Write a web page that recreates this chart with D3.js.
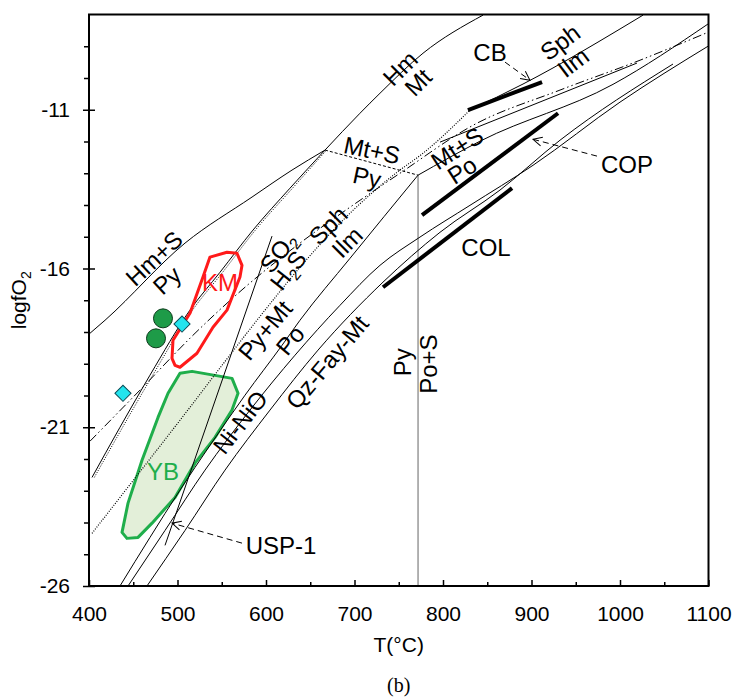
<!DOCTYPE html>
<html>
<head>
<meta charset="utf-8">
<script src="https://cdn.jsdelivr.net/npm/d3@7/dist/d3.min.js"></script>
<style>
  body { margin: 0; background: #fff; }
  text { font-family: "Liberation Sans", Arial, sans-serif; }
</style>
</head>
<body>
<svg id="chart" width="735" height="697"></svg>
<script>
// axis ticks
const xMajor = [400, 500, 600, 700, 800, 900, 1000, 1100];
const xMinor = [450, 550, 650, 750, 850, 950, 1050];
const yMajor = [-26, -21, -16, -11];
const yMinor = [-25, -24, -23, -22, -20, -19, -18, -17, -15, -14, -13, -12, -10, -9];

// buffer curves, [T (°C), logfO2]
const hmPyLine = [[401.1, -18.04], [418.1, -17.63], [508.5, -15.20], [584.2, -13.75], [629.4, -12.90], [666.7, -12.27]];
const hmMtLine = [[666.7, -12.27], [706.2, -11.11], [728.8, -10.48], [777.4, -9.22], [845.2, -8.02]];
const pyMtLine = [[403.4, -22.58], [435.0, -21.00], [468.9, -19.36], [514.1, -17.31], [548.0, -16.12], [585.3, -14.79], [627.1, -13.47], [666.7, -12.27]];
const pyMtDotted = [[406.0, -22.58], [438.0, -21.00], [472.0, -19.36], [517.0, -17.31], [551.0, -16.12], [588.0, -14.79], [630.0, -13.47], [667.5, -12.30]];
const mtsPyLine = [[666.7, -12.27], [771.8, -13.06]];
const pyPoSLine = [[771.8, -13.06], [771.8, -26.0]];
const pyPoLine = [[435.0, -26.0], [468.9, -24.47], [502.8, -22.98], [536.7, -21.57], [576.3, -19.99], [618.1, -18.42], [638.4, -17.63], [694.9, -15.68], [771.8, -13.06]];
const mtsPoLine = [[771.8, -13.06], [841.8, -11.99], [992.1, -10.20], [1099.4, -8.30]];
const nnoLine = [[444.1, -26.0], [485.9, -24.25], [531.1, -22.35], [581.9, -20.46], [632.8, -18.73], [683.6, -17.16], [728.8, -15.90], [774.0, -15.01], [830.5, -14.01], [901.7, -12.75], [1000.0, -10.76], [1099.4, -9.00]];
const qfmLine = [[465.5, -26.0], [508.5, -24.25], [553.7, -22.35], [604.5, -20.46], [658.8, -18.57], [732.2, -16.43], [796.6, -14.86], [864.4, -13.53], [932.2, -11.96], [1059.9, -9.56]];
const so2Line = [[401.1, -21.44], [457.6, -19.83], [519.8, -18.04], [576.3, -16.59], [638.4, -15.20], [694.9, -14.07], [751.4, -13.00], [833.9, -11.49], [932.2, -10.38], [1022.6, -9.44], [1099.4, -8.56]];
const steepLine = [[485.9, -24.72], [606.8, -14.98]];
const sphIlmDotted = [[403.4, -24.34], [502.8, -20.78], [598.9, -17.31], [638.4, -15.96], [694.9, -14.26], [748.0, -12.97], [777.4, -12.37], [830.5, -11.01]];
const sphIlmUpper = [[830.5, -11.01], [890.4, -10.19], [1026.0, -8.02]];
const ilmLower = [[796.6, -12.02], [1019.2, -9.53]];

// sample estimates (thick bars)
const cbBar = [[828.2, -11.01], [911.9, -10.13]];
const copBar = [[776.3, -14.32], [930.0, -11.11]];
const colBar = [[732.2, -16.59], [878.0, -13.47]];

// fields
const kmField = [[536.7, -15.64], [555.9, -15.49], [567.2, -15.52], [572.9, -15.90], [570.6, -16.27], [555.9, -17.31], [540.1, -17.85], [522.0, -18.67], [502.8, -19.11], [497.2, -19.05], [493.8, -18.83], [494.9, -18.26], [514.1, -17.41], [528.8, -16.27]];
const ybField = [[502.8, -19.30], [516.4, -19.24], [561.6, -19.46], [568.4, -19.93], [561.6, -20.46], [542.4, -21.32], [519.8, -22.13], [497.2, -23.21], [471.2, -24.02], [455.4, -24.47], [442.9, -24.50], [437.3, -24.31], [444.1, -23.39], [459.9, -22.04], [478.0, -20.69], [489.3, -19.93]];

// points
const circlePts = [[483.6, -17.57], [475.7, -18.20]];
const diamondPts = [[505.1, -17.75], [438.4, -19.93]];

// pointer arrows [from, to]
const cbArrow = [[870.1, -9.50], [898.3, -10.07]];
const copArrow = [[974.0, -12.46], [901.7, -11.93]];
const uspArrow = [[572.9, -24.65], [493.8, -24.02]];

// labels
const labels = [
  {text: "Hm+S", t: 473.4, f: -15.68, rot: -43},
  {text: "Py", t: 488.1, f: -16.37, rot: -43},
  {text: "Hm", t: 751.4, f: -9.69, rot: -45},
  {text: "Mt", t: 771.8, f: -10.13, rot: -45},
  {text: "Mt+S", t: 719.8, f: -12.27, rot: 12},
  {text: "Py", t: 714.1, f: -13.12, rot: 12},
  {text: "Mt+S", t: 815.8, f: -12.21, rot: -33},
  {text: "Po", t: 821.5, f: -12.90, rot: -33},
  {text: "Sph", t: 670.1, f: -14.64, rot: -45},
  {text: "Ilm", t: 691.5, f: -15.17, rot: -45},
  {text: "SO_2", t: 613.6, f: -15.49, rot: -52},
  {text: "H_2S", t: 624.9, f: -16.05, rot: -52},
  {text: "Py+Mt", t: 598.9, f: -17.94, rot: -50},
  {text: "Po", t: 627.1, f: -18.26, rot: -50},
  {text: "Ni-NiO", t: 570.6, f: -20.84, rot: -52},
  {text: "Qz-Fay-Mt", t: 668.9, f: -18.95, rot: -50},
  {text: "Py", t: 753.7, f: -18.95, rot: -90},
  {text: "Po+S", t: 783.1, f: -19.01, rot: -90},
  {text: "Sph", t: 932.2, f: -8.87, rot: -37},
  {text: "Ilm", t: 946.9, f: -9.50, rot: -37},
  {text: "CB", t: 853.1, f: -9.19, rot: 0},
  {text: "COP", t: 1007.9, f: -12.71, rot: 0},
  {text: "COL", t: 848.6, f: -15.33, rot: 0},
  {text: "USP-1", t: 617.0, f: -24.72, rot: 0},
  {text: "KM", t: 548.0, f: -16.43, rot: 0, color: "#ff1a1a"},
  {text: "YB", t: 483.6, f: -22.39, rot: 0, color: "#1fae4b"}
];

const width = 735, height = 697;
const margins = {top: 14.5, bottom: 111, left: 89, right: 26.5};

const svg = d3.select("#chart");
const x = d3.scaleLinear().domain([400, 1100]).range([margins.left, width - margins.right]);
const y = d3.scaleLinear().domain([-26, -8]).range([height - margins.bottom, margins.top]);

const line = d3.line().x(d => x(d[0])).y(d => y(d[1]));
const closed = d3.line().x(d => x(d[0])).y(d => y(d[1])).curve(d3.curveLinearClosed);
const smooth = d3.line().x(d => x(d[0])).y(d => y(d[1])).curve(d3.curveMonotoneX);

svg.append("defs").append("clipPath").attr("id", "plotclip")
  .append("rect")
  .attr("x", x(400)).attr("y", y(-8))
  .attr("width", x(1100) - x(400)).attr("height", y(-26) - y(-8));

const plot = svg.append("g").attr("clip-path", "url(#plotclip)");

// YB field (filled)
plot.append("path")
  .datum(ybField)
  .attr("d", closed)
  .attr("fill", "#e3efd9")
  .attr("stroke", "#1fae4b")
  .attr("stroke-width", 3)
  .attr("stroke-linejoin", "round");

// curves
const curves = [
  {d: hmPyLine, w: 1},
  {d: hmMtLine, w: 1},
  {d: pyMtLine, w: 1},
  {d: pyMtDotted, w: 1, dash: "1,1.5"},
  {d: mtsPyLine, w: 1, dash: "3,2", lin: true},
  {d: pyPoSLine, w: 1, color: "#666", lin: true},
  {d: pyPoLine, w: 1},
  {d: mtsPoLine, w: 1},
  {d: nnoLine, w: 1},
  {d: qfmLine, w: 1},
  {d: so2Line, w: 1, dash: "9,3,1.5,3,1.5,3"},
  {d: steepLine, w: 1, lin: true},
  {d: sphIlmDotted, w: 1.2, dash: "1,1.5"},
  {d: sphIlmUpper, w: 1},
  {d: ilmLower, w: 1, lin: true}
];

plot.selectAll("path.curve")
  .data(curves)
  .enter()
  .append("path")
  .attr("class", "curve")
  .attr("d", c => (c.lin ? line : smooth)(c.d))
  .attr("fill", "none")
  .attr("stroke", c => c.color || "#000")
  .attr("stroke-width", c => c.w)
  .attr("stroke-dasharray", c => c.dash || null);

// thick bars
plot.selectAll("path.bar")
  .data([cbBar, copBar, colBar])
  .enter()
  .append("path")
  .attr("class", "bar")
  .attr("d", line)
  .attr("stroke", "#000")
  .attr("stroke-width", 4);

// KM field
plot.append("path")
  .datum(kmField)
  .attr("d", closed)
  .attr("fill", "none")
  .attr("stroke", "#ff1a1a")
  .attr("stroke-width", 3)
  .attr("stroke-linejoin", "round");

// points
plot.selectAll("circle.pt")
  .data(circlePts)
  .enter()
  .append("circle")
  .attr("class", "pt")
  .attr("cx", d => x(d[0]))
  .attr("cy", d => y(d[1]))
  .attr("r", 9.5)
  .attr("fill", "#1e9b48")
  .attr("stroke", "#0b3a1a")
  .attr("stroke-width", 1);

plot.selectAll("path.dia")
  .data(diamondPts)
  .enter()
  .append("path")
  .attr("class", "dia")
  .attr("transform", d => `translate(${x(d[0])},${y(d[1])}) rotate(45)`)
  .attr("d", d3.symbol().type(d3.symbolSquare).size(130))
  .attr("fill", "#22e4ee")
  .attr("stroke", "#0a4a55")
  .attr("stroke-width", 1);

// pointer arrows
svg.append("defs").append("marker")
  .attr("id", "chev")
  .attr("viewBox", "-10 -6 12 12")
  .attr("markerWidth", 12).attr("markerHeight", 12)
  .attr("markerUnits", "userSpaceOnUse")
  .attr("orient", "auto")
  .append("path")
  .attr("d", "M-9,-4.5L0,0L-9,4.5")
  .attr("fill", "none")
  .attr("stroke", "#000")
  .attr("stroke-width", 1);

plot.selectAll("path.arrow")
  .data([cbArrow, copArrow, uspArrow])
  .enter()
  .append("path")
  .attr("class", "arrow")
  .attr("d", line)
  .attr("fill", "none")
  .attr("stroke", "#000")
  .attr("stroke-width", 1)
  .attr("stroke-dasharray", "6,4")
  .attr("marker-end", "url(#chev)");

// labels
const lab = svg.append("g");
labels.forEach(d => {
  const t = lab.append("text")
    .attr("transform", `translate(${x(d.t)},${y(d.f)}) rotate(${d.rot})`)
    .attr("text-anchor", "middle")
    .attr("dy", "0.36em")
    .attr("font-size", 24)
    .attr("fill", d.color || "#000");
  d.text.split(/(_\d)/).forEach(p => {
    if (!p) return;
    if (p[0] === "_") {
      t.append("tspan").attr("font-size", 16).attr("dy", 5).text(p.slice(1));
    } else {
      const s = t.append("tspan").text(p);
      if (t.selectAll("tspan").size() > 2) s.attr("dy", -5);
    }
  });
});

// axes
const axes = svg.append("g");
const tickFont = g => g.selectAll("text")
  .attr("font-size", 21)
  .attr("fill", "#000")
  .attr("font-family", "Liberation Sans, Arial, sans-serif");

axes.append("g")
  .attr("transform", `translate(0,${y(-26)})`)
  .call(d3.axisBottom(x).tickValues(xMajor).tickSize(-6).tickPadding(20).tickFormat(d => String(d)))
  .call(g => g.select(".domain").remove())
  .call(tickFont);
axes.append("g")
  .attr("transform", `translate(0,${y(-26)})`)
  .call(d3.axisBottom(x).tickValues(xMinor).tickSize(-4).tickFormat(""))
  .call(g => g.select(".domain").remove());

axes.append("g")
  .attr("transform", `translate(${x(400)},0)`)
  .call(d3.axisLeft(y).tickValues(yMajor).tickSize(6).tickPadding(13).tickFormat(d => String(d)))
  .call(g => g.select(".domain").remove())
  .call(tickFont);
axes.append("g")
  .attr("transform", `translate(${x(400)},0)`)
  .call(d3.axisLeft(y).tickValues(yMajor).tickSize(-6).tickFormat(""))
  .call(g => g.select(".domain").remove());
axes.append("g")
  .attr("transform", `translate(${x(400)},0)`)
  .call(d3.axisLeft(y).tickValues(yMinor).tickSize(5).tickFormat(""))
  .call(g => g.select(".domain").remove());
axes.selectAll(".tick line").attr("stroke", "#000").attr("stroke-width", 1.5);

// frame
svg.append("rect")
  .attr("x", x(400)).attr("y", y(-8))
  .attr("width", x(1100) - x(400)).attr("height", y(-26) - y(-8))
  .attr("fill", "none")
  .attr("stroke", "#000")
  .attr("stroke-width", 2);

// axis titles
svg.append("text")
  .attr("x", (x(400) + x(1100)) / 2).attr("y", 652)
  .attr("text-anchor", "middle")
  .attr("font-size", 21)
  .text("T(°C)");

const yt = svg.append("text")
  .attr("transform", `translate(26,${y(-17)}) rotate(-90)`)
  .attr("text-anchor", "middle")
  .attr("font-size", 21);
yt.append("tspan").text("logfO");
yt.append("tspan").attr("font-size", 14).attr("dy", 5).text("2");

svg.append("text")
  .attr("x", (x(400) + x(1100)) / 2).attr("y", 692)
  .attr("text-anchor", "middle")
  .attr("font-size", 20)
  .style("font-family", "Liberation Serif, Times New Roman, serif")
  .text("(b)");
</script>
</body>
</html>
